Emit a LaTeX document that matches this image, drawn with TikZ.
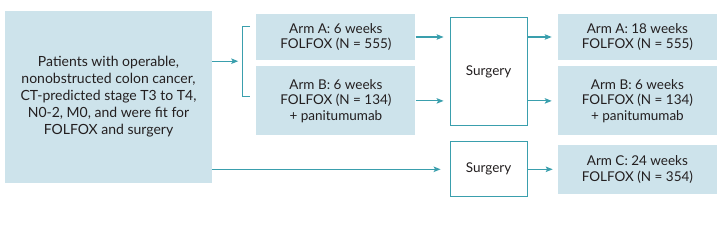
\documentclass[tikz,border=0pt]{standalone}
\usepackage{fontspec}
\setmainfont{Lato}
\usepackage{tikz}
\usetikzlibrary{positioning,arrows.meta,calc}
\definecolor{boxblue}{HTML}{CDE3EB}
\definecolor{teal}{HTML}{3A9FAD}
\definecolor{txt}{HTML}{231F20}

\begin{document}
\begin{tikzpicture}[
  x=1pt, y=1pt,
  node distance=6pt and 30pt,
  every node/.style={text=txt,font=\fontsize{13.5}{15.5}\selectfont},
  armbox/.style={fill=boxblue,minimum width=159pt,inner sep=0pt,align=center},
  surgbox/.style={draw=teal,line width=1.1pt,fill=white,minimum width=77pt,inner sep=0pt},
  arr/.style={draw=teal,line width=1.1pt,-{Stealth[length=7pt,width=5.5pt,inset=1.5pt]},shorten >=6pt}
]
\useasboundingbox (0,0) rectangle (724,-244);
\node[fill=boxblue,minimum width=207pt,minimum height=172pt,inner sep=0pt,align=center,
      font=\fontsize{14}{17}\selectfont] (pat) at (108.5,-97)
  {Patients with operable,\\nonobstructed colon cancer,\\CT-predicted stage T3 to T4,\\N0-2, M0, and were fit for\\FOLFOX and surgery};
\node[armbox,minimum height=46pt,below right=3pt and 44pt of pat.north east] (armA1) {Arm A: 6 weeks\\FOLFOX (N = 555)};
\node[armbox,minimum height=69pt,below=of armA1] (armB1) {Arm B: 6 weeks\\FOLFOX (N = 134)\\+ panitumumab};
\node[surgbox,minimum height=108pt,below right=3pt and 34pt of armA1.north east] (surg1) {Surgery};
\node[armbox,minimum height=46pt,below right=-3pt and 30pt of surg1.north east] (armA2) {Arm A: 18 weeks\\FOLFOX (N = 555)};
\node[armbox,minimum height=69pt,below=of armA2] (armB2) {Arm B: 6 weeks\\FOLFOX (N = 134)\\+ panitumumab};
\node[armbox,minimum height=49pt,below=9pt of armB2] (armC) {Arm C: 24 weeks\\FOLFOX (N = 354)};
\node[surgbox,minimum height=55pt,left=of armC] (surg2) {Surgery};

% randomisation bracket
\coordinate (brtop) at ([xshift=-6pt,yshift=11pt]armA1.west);
\coordinate (brbot) at ([xshift=-6pt,yshift=4.5pt]armB1.west);
\draw[teal,line width=0.9pt] (brtop) -- ++(-8,0) coordinate (brt) |- (brbot);
\coordinate (brmid) at ($(brt)!0.5!(brt |- brbot)$);
\draw[arr,shorten >=4pt] (pat.east |- brmid) -- (brmid);

\draw[arr] (armA1.east) -- (armA1.east -| surg1.west);
\draw[arr] (armB1.east) -- (armB1.east -| surg1.west);
\draw[arr] (surg1.east |- armA2) -- (armA2.west);
\draw[arr] (surg1.east |- armB2) -- (armB2.west);
\draw[arr,shorten >=9pt] (pat.east |- surg2) -- (surg2.west);
\draw[arr,shorten >=5pt] (surg2.east) -- (armC.west);
\end{tikzpicture}
\end{document}
